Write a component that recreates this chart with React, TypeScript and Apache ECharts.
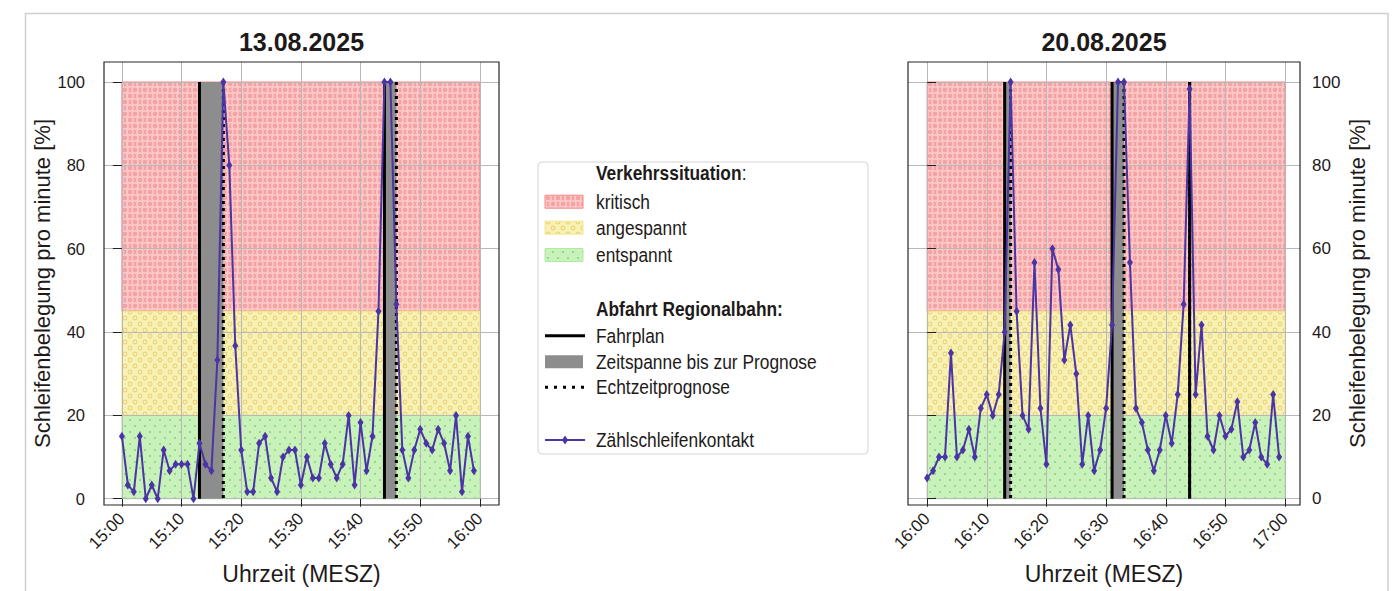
import React, { useEffect, useRef } from 'react';
import * as echarts from 'echarts';

// ---------- data ----------
const dateTitles = ['13.08.2025', '20.08.2025'];
const startHours = [15, 16];
const xTickMinutes = [0, 10, 20, 30, 40, 50, 60];
const yTicks = [0, 20, 40, 60, 80, 100];

// Schleifenbelegung pro Minute [%], one value per minute from the start hour
const occupancyDay1 = [15, 3.3, 1.7, 15, 0, 3.3, 0, 11.7, 6.7, 8.3, 8.3, 8.3, 0, 13.3, 8.3, 6.7, 33.3, 100, 80, 36.7,
  11.7, 1.7, 1.7, 13.3, 15, 5, 1.7, 10, 11.7, 11.7, 3.3, 10, 5, 5, 13.3, 8.3, 5, 8.3, 20, 3.3,
  18.3, 6.7, 15, 45, 100, 100, 46.7, 11.7, 5, 11.7, 16.7, 13.3, 11.7, 16.7, 13.3, 6.7, 20, 1.7, 15, 6.7];
const occupancyDay2 = [5, 6.7, 10, 10, 35, 10, 11.7, 16.7, 10, 21.7, 25, 20, 25, 40, 100, 45, 20, 16.7, 56.7, 21.7,
  8.3, 60, 55, 33.3, 41.7, 30, 8.3, 20, 6.7, 11.7, 21.7, 41.7, 100, 100, 56.7, 21.7, 18.3, 11.7, 6.7, 11.7,
  20, 13.3, 25, 46.7, 98.3, 25, 41.7, 15, 11.7, 20, 15, 16.7, 23.3, 10, 11.7, 18.3, 10, 8.3, 25, 10];

// departures (minutes after start hour)
const fahrplanDay1 = [13, 44];
const prognoseDay1 = [17, 46];
const fahrplanDay2 = [13, 31, 44];
const prognoseDay2 = [14, 33, 44];

// traffic zones
const zoneNames = ['kritisch', 'angespannt', 'entspannt'];
const zoneLower = [45, 20, 0];
const zoneUpper = [100, 45, 20];
const zoneStartMinute = 0;
const zoneEndMinute = 60;
const departureSpan = [0, 100];

const legendTitles = ['Verkehrssituation', 'Abfahrt Regionalbahn:'];
const departureLegend = ['Fahrplan', 'Zeitspanne bis zur Prognose', 'Echtzeitprognose'];
const lineLegend = 'Zählschleifenkontakt';

// ---------- styles ----------
const SANS = '"Liberation Sans", Arial, sans-serif';
const TEXT = '#1e1a1a';
const PURPLE = '#4a34a6';
const GRAY = '#8d8d8d';
const zoneBg = ['#f7a2a2', '#f7f2b4', '#c9f1ba'];
const zoneFg = ['#fcd2d2', '#ecd27c', '#7dd47d'];
const zoneKind = ['ring', 'smallring', 'dot'];
const zoneEdge = ['#f58888', '#f3e68e', '#b4e8a4'];

const gridBoxes = [
  { left: 104, top: 62, width: 395, height: 443 },
  { left: 908, top: 62, width: 392, height: 443 },
];
const xRanges = [[-3, 63.2], [-3.2, 62.5]];
const yRange = [-1.5, 104.8];

function makePattern(bg: string, fg: string, kind: string) {
  const w = 10, h = 12;
  const c = document.createElement('canvas');
  c.width = w; c.height = h;
  const ctx = c.getContext('2d')!;
  ctx.fillStyle = bg;
  ctx.fillRect(0, 0, w, h);
  const pts = [[0, 0], [w, 0], [0, h], [w, h], [w / 2, h / 2]];
  pts.forEach(([x, y]) => {
    ctx.beginPath();
    if (kind === 'ring') {
      ctx.arc(x, y, 3.1, 0, Math.PI * 2);
      ctx.strokeStyle = fg; ctx.lineWidth = 1.3; ctx.stroke();
    } else if (kind === 'smallring') {
      ctx.arc(x, y, 1.9, 0, Math.PI * 2);
      ctx.strokeStyle = fg; ctx.lineWidth = 1.1; ctx.stroke();
    } else {
      ctx.arc(x, y, 1.0, 0, Math.PI * 2);
      ctx.fillStyle = fg; ctx.fill();
    }
  });
  return { image: c, repeat: 'repeat', imageWidth: w, imageHeight: h } as any;
}

function fmtTime(startHour: number) {
  return (v: number) => {
    const m = Math.round(v);
    const hh = startHour + Math.floor(m / 60);
    const mm = m % 60;
    return `${hh}:${String(mm).padStart(2, '0')}`;
  };
}

export default function App() {
  const ref = useRef<HTMLDivElement>(null);
  useEffect(() => {
    document.body.style.margin = '0';
    if (!ref.current) return;
    const chart = echarts.init(ref.current, null, { renderer: 'svg' });
    const patterns = zoneNames.map((_, i) => makePattern(zoneBg[i], zoneFg[i], zoneKind[i]));

    const days = [
      { values: occupancyDay1, fahrplan: fahrplanDay1, prognose: prognoseDay1 },
      { values: occupancyDay2, fahrplan: fahrplanDay2, prognose: prognoseDay2 },
    ];

    const xAxes = days.map((_, k) => ({
      type: 'value',
      gridIndex: k,
      min: xRanges[k][0],
      max: xRanges[k][1],
      splitNumber: 7,
      axisLine: { show: false },
      axisTick: { show: true, customValues: xTickMinutes, length: 8, lineStyle: { color: '#222', width: 1 } },
      axisLabel: {
        customValues: xTickMinutes,
        rotate: 45,
        formatter: fmtTime(startHours[k]),
        fontSize: 17,
        fontFamily: SANS,
        color: TEXT,
        margin: 11,
      },
      splitLine: { show: true, lineStyle: { color: '#b8b8b8', width: 1 } },
      name: 'Uhrzeit (MESZ)',
      nameLocation: 'middle',
      nameGap: 57,
      nameTextStyle: { fontSize: 23, fontFamily: SANS, color: TEXT },
    }));

    const yAxes = days.map((_, k) => ({
      type: 'value',
      gridIndex: k,
      position: k === 0 ? 'left' : 'right',
      min: yRange[0],
      max: yRange[1],
      splitNumber: 5,
      axisLine: { show: false },
      axisTick: { show: true, customValues: yTicks, length: 9, lineStyle: { color: '#222', width: 1 } },
      axisLabel: { customValues: yTicks, fontSize: k === 0 ? 16.5 : 17, fontFamily: SANS, color: TEXT, margin: k === 0 ? 19 : 12 },
      splitLine: { show: true, lineStyle: { color: '#b8b8b8', width: 1 } },
      name: 'Schleifenbelegung pro minute [%]',
      nameLocation: 'middle',
      nameRotate: 90,
      nameGap: k === 0 ? 44 : 46,
      nameTextStyle: { fontSize: 22, fontFamily: SANS, color: TEXT },
    }));

    const series: any[] = [];
    days.forEach((d, k) => {
      series.push({
        type: 'custom',
        xAxisIndex: k,
        yAxisIndex: k,
        z: -1,
        silent: true,
        data: zoneNames.map((_, i) => [zoneLower[i], zoneUpper[i], i]),
        renderItem: (params: any, api: any) => {
          const lo = api.value(0), hi = api.value(1), idx = api.value(2);
          const p0 = api.coord([zoneStartMinute, hi]);
          const p1 = api.coord([zoneEndMinute, lo]);
          return {
            type: 'rect',
            shape: { x: p0[0], y: p0[1], width: p1[0] - p0[0], height: p1[1] - p0[1] },
            style: { fill: patterns[idx], stroke: zoneEdge[idx], lineWidth: 1 },
          };
        },
      });
      series.push({
        type: 'custom',
        xAxisIndex: k,
        yAxisIndex: k,
        z: 3,
        silent: true,
        data: d.fahrplan.map((f, i) => [f, d.prognose[i]]),
        renderItem: (params: any, api: any) => {
          const f = api.value(0), p = api.value(1);
          const a = api.coord([f, departureSpan[1]]);
          const b = api.coord([p, departureSpan[0]]);
          return {
            type: 'group',
            children: [
              { type: 'rect', shape: { x: a[0], y: a[1], width: b[0] - a[0], height: b[1] - a[1] }, style: { fill: GRAY } },
              { type: 'line', shape: { x1: b[0], y1: a[1], x2: b[0], y2: b[1] }, style: { stroke: '#000', lineWidth: 3, lineDash: [3, 4] } },
              { type: 'line', shape: { x1: a[0], y1: a[1], x2: a[0], y2: b[1] }, style: { stroke: '#000', lineWidth: 3 } },
            ],
          };
        },
      });
      series.push({
        type: 'line',
        xAxisIndex: k,
        yAxisIndex: k,
        z: 5,
        data: d.values.map((v, i) => [i, v]),
        symbol: 'diamond',
        symbolSize: [6, 9],
        showAllSymbol: true,
        lineStyle: { color: PURPLE, width: 2 },
        itemStyle: { color: PURPLE },
      });
    });

    // legend graphic
    const LX = 538, LY = 162;
    const SX = 0.89;
    const rowText = (y: number, text: string, bold = false) => ({
      type: 'text', x: 58, y, scaleX: SX,
      style: { text, fontSize: 19.5, fontFamily: SANS, fontWeight: bold ? 'bold' : 'normal', fill: TEXT, textVerticalAlign: 'middle' },
    });
    const patch = (y: number, fill: any, stroke?: string) => ({
      type: 'rect', shape: { x: 7, y: y - 6.5, width: 38, height: 13 }, style: { fill, stroke: stroke || 'none', lineWidth: 1 },
    });
    const legendChildren: any[] = [
      { type: 'rect', shape: { x: 0, y: 0, width: 330, height: 292, r: 4 }, style: { fill: '#fff', stroke: '#d4d4d4', lineWidth: 1 } },
      {
        type: 'text', x: 58, y: 11, scaleX: SX,
        style: {
          text: `{b|${legendTitles[0]}}:`, fontSize: 19.5, fontFamily: SANS, fill: TEXT, textVerticalAlign: 'middle',
          rich: { b: { fontSize: 19.5, fontFamily: SANS, fontWeight: 'bold', fill: TEXT } },
        },
      },
      patch(39.7, patterns[0], zoneEdge[0]), rowText(39.7, zoneNames[0]),
      patch(65.7, patterns[1], zoneEdge[1]), rowText(65.7, zoneNames[1]),
      patch(93, patterns[2], zoneEdge[2]), rowText(93, zoneNames[2]),
      rowText(147, legendTitles[1], true),
      { type: 'line', shape: { x1: 7, y1: 173.7, x2: 47, y2: 173.7 }, style: { stroke: '#000', lineWidth: 3 } },
      rowText(173.7, departureLegend[0]),
      patch(199.7, GRAY), rowText(199.7, departureLegend[1]),
      { type: 'line', shape: { x1: 7, y1: 225.3, x2: 47, y2: 225.3 }, style: { stroke: '#000', lineWidth: 3, lineDash: [3, 6] } },
      rowText(225.3, departureLegend[2]),
      { type: 'line', shape: { x1: 7, y1: 278, x2: 47, y2: 278 }, style: { stroke: PURPLE, lineWidth: 1.8 } },
      { type: 'polygon', shape: { points: [[27, 273.5], [30, 278], [27, 282.5], [24, 278]] }, style: { fill: PURPLE } },
      rowText(278, lineLegend),
    ];

    const frames = gridBoxes.map((g) => ({
      type: 'rect', z: 100, silent: true,
      shape: { x: g.left, y: g.top, width: g.width, height: g.height },
      style: { fill: 'none', stroke: '#262626', lineWidth: 1.2 },
    }));

    chart.setOption({
      animation: false,
      title: dateTitles.map((t, k) => ({
        text: t,
        left: gridBoxes[k].left + gridBoxes[k].width / 2,
        top: 29,
        textAlign: 'center',
        padding: 0,
        textStyle: { fontSize: 25, fontWeight: 'bold', fontFamily: SANS, color: TEXT },
      })),
      grid: gridBoxes.map((g) => ({ ...g, containLabel: false })),
      xAxis: xAxes,
      yAxis: yAxes,
      series,
      graphic: [
        { type: 'rect', z: 0, silent: true, shape: { x: 25.5, y: 13.5, width: 1362.5, height: 640 }, style: { fill: 'none', stroke: '#cfcfcf', lineWidth: 1.5 } },
        ...frames,
        { type: 'group', x: LX, y: LY, z: 50, children: legendChildren },
      ],
    });
    return () => chart.dispose();
  }, []);
  return <div ref={ref} style={{ width: 1400, height: 591 }} />;
}
